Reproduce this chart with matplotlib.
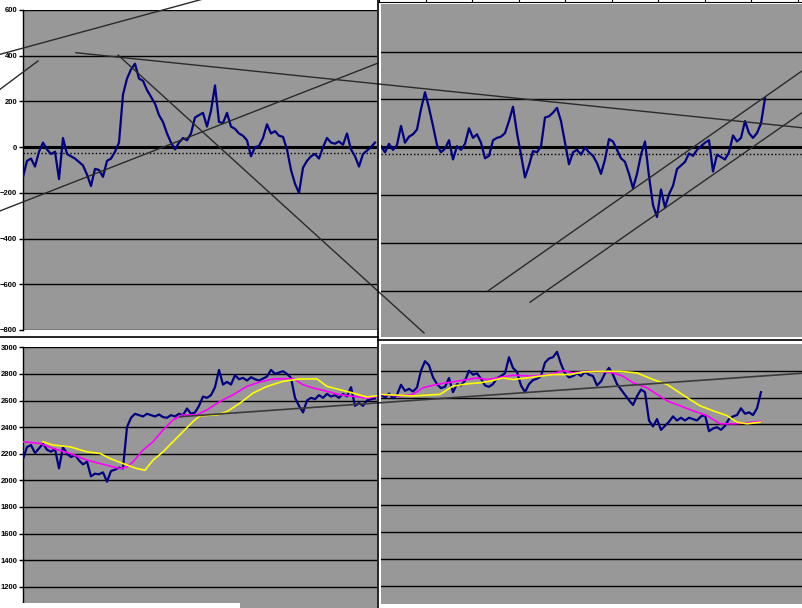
import numpy as np
import matplotlib.pyplot as plt
from matplotlib.lines import Line2D
from matplotlib.patches import Rectangle

W, H = 802, 608
GREY = '#989898'
NAVY = '#000080'
TREND = '#2a2a2a'
STEP = 4  # days between read-off samples

# ---- left window: oscillator (top) and price with moving averages (bottom)
osc_left = [-130, -60, -50, -85, -20, 20, -10, -30, -20, -140, 40, -30, -40, -50, -65, -80,
            -120, -170, -95, -100, -130, -60, -50, -20, 20, 230, 300, 340, 365, 300, 290, 250,
            220, 190, 140, 110, 60, 20, -10, 20, 40, 30, 60, 130, 140, 150, 90, 160,
            270, 110, 105, 150, 90, 80, 60, 50, 30, -40, 0, 5, 40, 100, 60, 70,
            50, 45, -10, -100, -160, -200, -90, -60, -40, -30, -50, 0, 40, 20, 15, 25,
            10, 60, -10, -40, -85, -30, -15, 0, 20]
price_left = [2160, 2250, 2265, 2205, 2240, 2275, 2230, 2215, 2235, 2090, 2250, 2200, 2175, 2190,
              2150, 2120, 2140, 2030, 2050, 2045, 2060, 1990, 2070, 2080, 2095, 2090, 2400, 2470,
              2500, 2490, 2480, 2500, 2490, 2480, 2495, 2475, 2470, 2490, 2480, 2500, 2490, 2540,
              2500, 2510, 2560, 2630, 2620, 2640, 2700, 2830, 2720, 2740, 2720, 2790, 2760, 2770,
              2750, 2775, 2760, 2750, 2765, 2780, 2830, 2800, 2810, 2820, 2800, 2770, 2620, 2560,
              2510, 2600, 2620, 2610, 2640, 2620, 2650, 2630, 2640, 2620, 2650, 2630, 2700, 2560,
              2580, 2560, 2600, 2610, 2615]
ma_fast_left_x = [0, 17, 30, 47, 64, 84, 97, 104, 110, 120, 130, 140, 150, 160, 174, 184, 197,
                  210, 224, 237, 250, 270, 280, 290, 304, 317, 330, 344, 354]
ma_fast_left = [2290, 2277, 2240, 2202, 2151, 2113, 2088, 2100, 2139, 2227, 2290, 2378, 2454, 2492,
                2492, 2530, 2593, 2643, 2706, 2740, 2762, 2765, 2719, 2694, 2669, 2643, 2631, 2618, 2631]
ma_slow_left_x = [20, 30, 47, 64, 77, 87, 100, 114, 122, 130, 140, 150, 160, 170, 177, 194, 204,
                  217, 230, 244, 260, 277, 294, 304, 317, 330, 344, 354]
ma_slow_left = [2290, 2265, 2252, 2214, 2202, 2164, 2126, 2088, 2076, 2151, 2214, 2290, 2366, 2442,
                2485, 2492, 2517, 2580, 2656, 2706, 2744, 2762, 2762, 2706, 2681, 2656, 2626, 2636]

# ---- right window
osc_right = [5, -20, 15, -10, 10, 90, 20, 45, 55, 75, 160, 230, 165, 90, 10, -20, -5, 30, -50, 5,
             -10, 15, 80, 40, 55, 20, -45, -35, 30, 40, 45, 60, 110, 170, 60, -30, -125, -75, -15,
             -20, 5, 125, 130, 145, 165, 110, 20, -70, -20, -10, -30, 0, -20, -35, -65, -110, -50,
             35, 25, -10, -45, -60, -110, -170, -110, -30, 25, -120, -240, -290, -175, -250, -195,
             -160, -90, -75, -60, -25, -35, -10, 5, 20, 30, -100, -30, -40, -50, -20, 50, 25, 40,
             110, 60, 40, 60, 100, 205]
price_right = [2620, 2600, 2630, 2595, 2620, 2695, 2650, 2665, 2645, 2675, 2800, 2870, 2840, 2750,
               2700, 2670, 2680, 2745, 2640, 2700, 2690, 2725, 2800, 2770, 2780, 2740, 2690, 2680,
               2700, 2745, 2760, 2780, 2900, 2820, 2790, 2690, 2640, 2700, 2730, 2740, 2760, 2860,
               2890, 2900, 2940, 2850, 2780, 2750, 2760, 2780, 2760, 2790, 2770, 2760, 2690, 2720,
               2780, 2820, 2770, 2700, 2660, 2620, 2580, 2545, 2610, 2660, 2640, 2430, 2385, 2440,
               2360, 2390, 2420, 2460, 2430, 2450, 2430, 2450, 2440, 2430, 2460, 2470, 2350, 2370,
               2380, 2360, 2390, 2440, 2460, 2470, 2520, 2480, 2490, 2470, 2520, 2640]
ma_fast_right_x = [0, 19, 32, 42, 56, 76, 96, 106, 116, 132, 152, 169, 182, 192, 206, 219, 232,
                   242, 252, 266, 276, 286, 299, 312, 326, 339, 352, 366, 379]
ma_fast_right = [2624, 2612, 2624, 2673, 2698, 2722, 2746, 2734, 2746, 2766, 2759, 2771, 2800, 2783,
                 2795, 2795, 2783, 2759, 2710, 2673, 2624, 2576, 2539, 2502, 2466, 2405, 2405, 2412, 2424]
ma_slow_right_x = [0, 32, 59, 72, 86, 99, 109, 122, 132, 146, 159, 172, 189, 202, 216, 239, 256,
                   272, 286, 296, 306, 319, 332, 346, 356, 366, 379]
ma_slow_right = [2624, 2612, 2624, 2685, 2702, 2710, 2722, 2746, 2734, 2746, 2759, 2771, 2771, 2790,
                 2795, 2795, 2783, 2734, 2698, 2649, 2600, 2539, 2502, 2466, 2417, 2405, 2417]

BASELINE = -27  # dotted reference level in the oscillator charts

# hand-drawn trend lines (x0, y0, x1, y1) in the data units of the panel they start in
trend_osc_left = [(-23, 406, 227, 704), (-23, 253, 15, 377), (53, 413, 779, 85),
                  (95, 403, 401, -813), (-23, -279, 354, 366)]
trend_osc_right = [(107, -598, 421, 319), (149, -645, 421, 145)]
trend_price_left = [(157, 2478, 779, 2805)]

plt.rcParams['font.family'] = ['Liberation Sans', 'DejaVu Sans']
fig = plt.figure(figsize=(W / 100, H / 100), dpi=100)
fig.patch.set_facecolor('white')


def px_axes(x0, y0, x1, y1):
    return fig.add_axes([x0 / W, 1 - y1 / H, (x1 - x0) / W, (y1 - y0) / H])


def style(ax, ticks, labels):
    ax.set_facecolor(GREY)
    for s in ax.spines.values():
        s.set_visible(False)
    ax.set_xticks([])
    ax.set_yticks(ticks)
    for t in ticks:
        ax.axhline(t, color='black', lw=1.0, zorder=1)
    if labels:
        ax.spines['left'].set_visible(True)
        ax.spines['left'].set_linewidth(1.0)
        ax.tick_params(axis='y', length=3, width=1, pad=1, labelsize=5.5)
        for lab in ax.get_yticklabels():
            lab.set_fontweight('bold')
    else:
        ax.tick_params(axis='y', length=0, labelleft=False)


# top left: oscillator
ax1 = px_axes(23, 10, 377, 330)
ax1.set_xlim(0, 354)
ax1.set_ylim(-800, 600)
style(ax1, np.arange(-800, 601, 200), True)
ax1.axhline(0, color='black', lw=2.2, zorder=1)
ax1.axhline(BASELINE, color='black', lw=1.0, ls=(0, (1, 1.6)), zorder=1)
ax1.plot(np.arange(len(osc_left)) * STEP, osc_left, color=NAVY, lw=1.6, zorder=3)

# bottom left: price + averages
ax2 = px_axes(23, 347.3, 377, 608)
ax2.set_xlim(0, 354)
ax2.set_ylim(1040, 3000)
style(ax2, np.arange(1200, 3001, 200), True)
ax2.plot(np.arange(len(price_left)) * STEP, price_left, color=NAVY, lw=1.6, zorder=3)
ax2.plot(ma_fast_left_x, ma_fast_left, color='#ff00ff', lw=1.2, zorder=4)
ax2.plot(ma_slow_left_x, ma_slow_left, color='#ffff00', lw=1.2, zorder=4)

# top right: oscillator
ax3 = px_axes(381, 4, 802, 337)
ax3.set_xlim(0, 421)
ax3.set_ylim(-790, 598)
style(ax3, np.arange(-600, 401, 200), False)
ax3.axhline(0, color='black', lw=2.2, zorder=1)
ax3.axhline(BASELINE, color='black', lw=1.0, ls=(0, (1, 1.6)), zorder=1)
ax3.plot(np.arange(len(osc_right)) * STEP, osc_right, color=NAVY, lw=1.6, zorder=3)
for x0, y0, x1, y1 in trend_osc_right:
    ax3.plot([x0, x1], [y0, y1], color=TREND, lw=1.0, zorder=4)

# bottom right: price + averages
ax4 = px_axes(381, 344, 802, 604)
ax4.set_xlim(0, 421)
ax4.set_ylim(1066, 2998)
style(ax4, np.arange(1200, 2801, 200), False)
ax4.plot(np.arange(len(price_right)) * STEP, price_right, color=NAVY, lw=1.6, zorder=3)
ax4.plot(ma_fast_right_x, ma_fast_right, color='#ff00ff', lw=1.2, zorder=4)
ax4.plot(ma_slow_right_x, ma_slow_right, color='#ffff00', lw=1.2, zorder=4)

# strip above the right window: axis line with small ticks
ax5 = px_axes(378, 0, 802, 2)
ax5.set_xlim(0, 424)
ax5.patch.set_visible(False)
for s in ['top', 'left', 'right']:
    ax5.spines[s].set_visible(False)
ax5.set_yticks([])
ax5.set_xticks(np.arange(1, 424, 46.5))
ax5.tick_params(axis='x', direction='in', length=2, width=0.8, labelbottom=False)

# trend lines drawn across windows (not clipped to their panel)
for x0, y0, x1, y1 in trend_osc_left:
    fig.add_artist(Line2D([x0, x1], [y0, y1], color=TREND, lw=1.0, transform=ax1.transData))
for x0, y0, x1, y1 in trend_price_left:
    fig.add_artist(Line2D([x0, x1], [y0, y1], color='#3a3a3a', lw=1.2, transform=ax2.transData))

# window frames
fig.add_artist(Line2D([378 / W, 378 / W], [0, 1], color='black', lw=1.2))
fig.add_artist(Line2D([0, 378 / W], [1 - 337 / H] * 2, color='black', lw=1.2))
fig.add_artist(Line2D([378 / W, 1], [1 - 339.5 / H] * 2, color='black', lw=1.2))
fig.add_artist(Rectangle((0, 0), 240 / W, 5 / H, transform=fig.transFigure,
                         facecolor='white', edgecolor='none', zorder=5))

fig.savefig('out.png', dpi=100, facecolor='white')
